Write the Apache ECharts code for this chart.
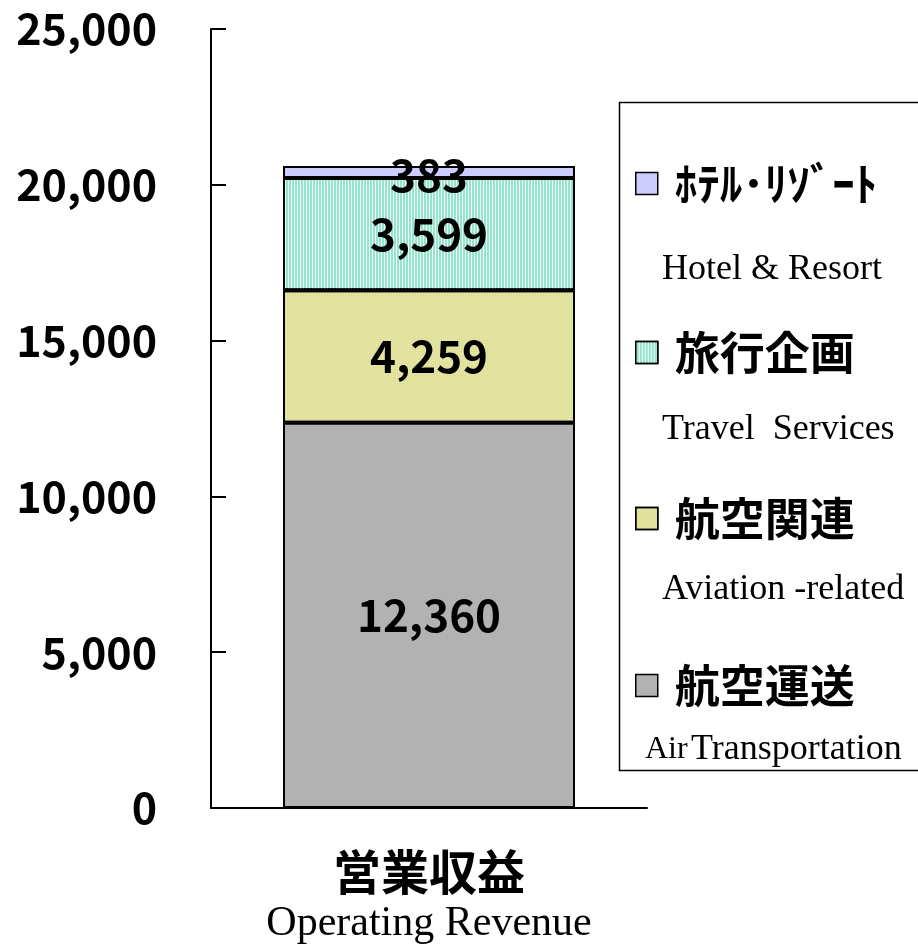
<!DOCTYPE html>
<html>
<head>
<meta charset="utf-8">
<script src="https://cdn.jsdelivr.net/npm/echarts@6/dist/echarts.min.js"></script>
<style>
  html, body { margin: 0; padding: 0; background: #fff; }
  #chart { width: 918px; height: 947px; }
</style>
</head>
<body>
<div id="chart"></div>
<script>
// data
const categories = ["営業収益"];
const categoriesEn = ["Operating Revenue"];
const seriesNames = ["航空運送", "航空関連", "旅行企画", "ﾎﾃﾙ･ﾘｿﾞｰﾄ"];
const seriesNamesEn = ["Air Transportation", "Aviation -related", "Travel  Services", "Hotel & Resort"];
const airTransport = [12360];
const aviationRelated = [4259];
const travelServices = [3599];
const hotelResort = [383];
const yTicks = [0, 5000, 10000, 15000, 20000, 25000];

const seriesValues = [airTransport, aviationRelated, travelServices, hotelResort];

const jpFont = '"Noto Sans CJK JP", sans-serif';
const serifFont = '"Liberation Serif", "Times New Roman", serif';

const colors = ["#b2b2b2", "#e0e098", "#92e4cc", "#ccccff"];
const decals = [
  null,
  { symbol: "rect", symbolSize: 1, dashArrayX: [1, 1], dashArrayY: [1, 1], color: "rgba(255,255,255,0.25)" },
  { symbol: "rect", symbolSize: 1, dashArrayX: [1, 2], dashArrayY: [1, 0], color: "rgba(255,255,255,0.9)" },
  null,
];

const fmt = (v) => Number(v).toLocaleString("en-US");

const chart = echarts.init(document.getElementById("chart"));

// legend rows, top to bottom: hotel, travel, aviation, air transport
const legendCenters = [187, 356, 522, 689];
const legendOrder = [3, 2, 1, 0];
const enLabelPos = [
  { x: 662, y: 268 },
  { x: 662, y: 428 },
  { x: 662, y: 588 },
  { x: 645, y: 748 },
];

const legends = legendOrder.map((si, row) => ({
  data: [seriesNames[si]],
  left: 635,
  top: legendCenters[row] - 26,
  padding: 0,
  icon: "rect",
  itemWidth: 22,
  itemHeight: 22,
  selectedMode: false,
  itemStyle: { borderColor: "#000", borderWidth: 1.5 },
  textStyle: {
    fontFamily: jpFont,
    fontSize: 45,
    fontWeight: "bold",
    color: "#000",
    padding: [0, 0, 0, 12],
  },
}));

const enTexts = legendOrder.map((si, row) => {
  const name = seriesNamesEn[si];
  const isAir = si === 0;
  return {
    type: "text",
    left: enLabelPos[row].x,
    top: enLabelPos[row].y - 16,
    style: isAir
      ? {
          text: "{s|Air} {l|Transportation}",
          rich: {
            s: { font: "32px " + serifFont, fill: "#000" },
            l: { font: "36px " + serifFont, fill: "#000" },
          },
        }
      : { text: name, font: "36px " + serifFont, fill: "#000" },
  };
});

chart.setOption({
  animation: false,
  backgroundColor: "#fff",
  grid: { left: 211, right: 271, top: 29, bottom: 139 },
  legend: legends,
  graphic: [
    {
      type: "rect",
      left: 617,
      top: 100,
      shape: { width: 300, height: 668 },
      style: { fill: "none", stroke: "#000", lineWidth: 1.5 },
      z: 0,
    },
    ...enTexts,
  ],
  xAxis: {
    type: "category",
    data: categories,
    axisLine: { lineStyle: { color: "#000", width: 2 } },
    axisTick: { inside: true, length: 13, lineStyle: { color: "#000", width: 2 } },
    axisLabel: {
      margin: 34,
      formatter: (v, i) => "{jp|" + v + "}\n{en|" + categoriesEn[i] + "}",
      rich: {
        jp: { fontFamily: jpFont, fontSize: 48, fontWeight: "bold", color: "#000", lineHeight: 60 },
        en: { fontFamily: serifFont, fontSize: 42, color: "#000", lineHeight: 44 },
      },
    },
  },
  yAxis: {
    type: "value",
    min: yTicks[0],
    max: yTicks[yTicks.length - 1],
    interval: yTicks[1] - yTicks[0],
    splitLine: { show: false },
    axisLine: { show: true, lineStyle: { color: "#000", width: 2 } },
    axisTick: { show: true, inside: true, length: 15, lineStyle: { color: "#000", width: 2 } },
    axisLabel: {
      margin: 54,
      formatter: fmt,
      fontFamily: jpFont,
      fontSize: 43,
      fontWeight: "bold",
      color: "#000",
    },
  },
  series: seriesValues.map((vals, i) => ({
    name: seriesNames[i],
    type: "bar",
    stack: "total",
    barWidth: 292,
    data: vals,
    itemStyle: {
      color: colors[i],
      borderColor: "#000",
      borderWidth: 2,
      decal: decals[i] || undefined,
    },
    label: {
      show: true,
      position: "inside",
      offset: i === 3 ? [0, 3] : [0, 0],
      formatter: (p) => fmt(p.value),
      fontFamily: jpFont,
      fontSize: 44,
      fontWeight: "bold",
      color: "#000",
    },
  })),
});
</script>
</body>
</html>
